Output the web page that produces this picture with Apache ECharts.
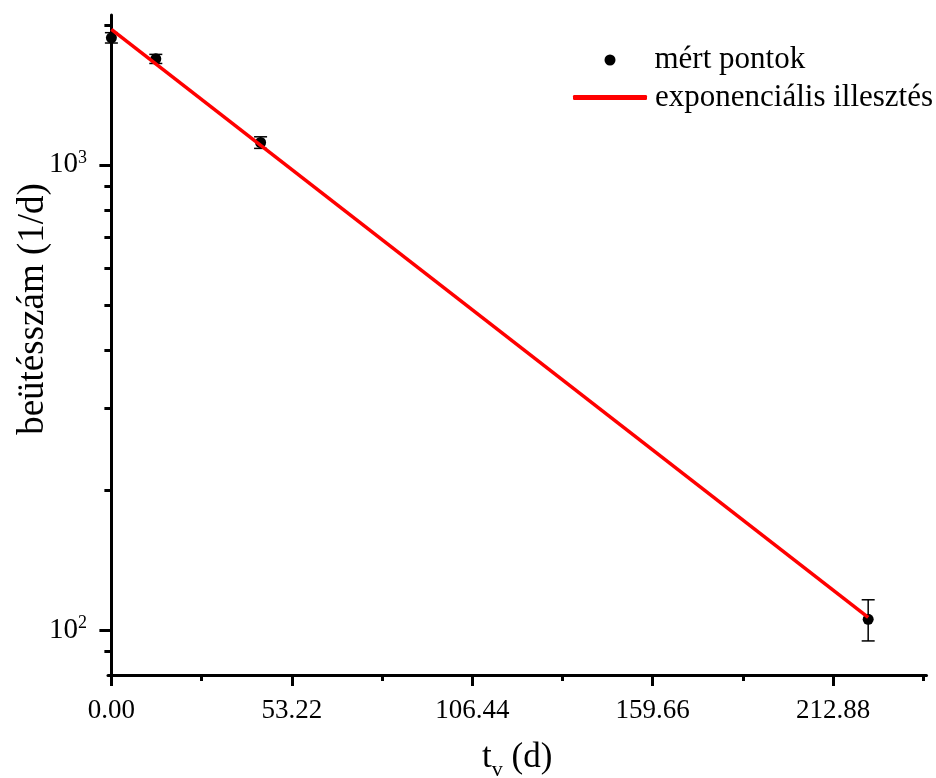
<!DOCTYPE html>
<html>
<head>
<meta charset="utf-8">
<script src="https://cdn.jsdelivr.net/npm/echarts@6/dist/echarts.min.js"></script>
<style>
html,body{margin:0;padding:0;background:#fff;}
#chart{width:936px;height:778px;}
</style>
</head>
<body>
<div id="chart"></div>
<script>
// ---- data ----
const tDays = [0, 13.1, 44.0, 223.2];          // measurement times (d)
const counts = [1876, 1690, 1117, 105.4];      // measured counts (1/d)
const countErr = [48, 38, 32, 10.7];           // error bar half-lengths
const fitT = [0, 223.2];                       // exponential fit endpoints (d)
const fitCounts = [1956, 106.4];               // fit values at endpoints
const xMajorTicks = [0, 53.22, 106.44, 159.66, 212.88];
const xMinorTicks = [26.61, 79.83, 133.05, 186.27, 239.49];
const yMajorTicks = [100, 1000];
const yMinorTicks = [90, 200, 300, 400, 500, 600, 700, 800, 900, 2000];
const seriesNames = ['mért pontok', 'exponenciális illesztés'];

const FONT = '"Liberation Serif", "Times New Roman", serif';
const X_MIN = -1, X_MAX = 240.4, Y_MIN = 80, Y_MAX = 2100;

const chart = echarts.init(document.getElementById('chart'), null, {renderer: 'canvas'});

const axisLine = {show: true, lineStyle: {color: '#000', width: 3}};

const option = {
  backgroundColor: '#fff',
  animation: false,
  grid: {left: 108, right: 9.5, top: 15, bottom: 103, containLabel: false, outerBoundsMode: 'none'},
  legend: [
    {
      data: [{name: seriesNames[0], icon: 'circle', itemStyle: {color: '#000', opacity: 1}}],
      left: 604.5, top: 44.5, padding: 0,
      itemWidth: 11, itemHeight: 11,
      textStyle: {fontFamily: FONT, fontSize: 31, color: '#000', padding: [0, 0, 0, 34]},
      selectedMode: false
    },
    {
      data: [{name: seriesNames[1], icon: 'roundRect', itemStyle: {color: '#ff0000'}}],
      left: 573, top: 82, padding: 0,
      itemWidth: 74, itemHeight: 5,
      textStyle: {fontFamily: FONT, fontSize: 31, color: '#000', padding: [0, 0, 0, 3]},
      selectedMode: false
    }
  ],
  xAxis: [
    {
      type: 'value', min: X_MIN, max: X_MAX,
      axisLine: axisLine,
      splitLine: {show: false},
      axisTick: {show: true, inside: false, length: 11, lineStyle: {color: '#000', width: 3}, customValues: xMajorTicks},
      axisLabel: {
        show: true, customValues: xMajorTicks, margin: 22,
        fontFamily: FONT, fontSize: 27, color: '#000',
        formatter: v => Number(v).toFixed(2)
      },
      name: '{t|t}{s|v}{t| (d)}',
      nameLocation: 'middle', nameGap: 60,
      nameMoveOverlap: false,
      nameTextStyle: {
        fontFamily: FONT, fontSize: 35, color: '#000',
        rich: {
          t: {fontFamily: FONT, fontSize: 35, color: '#000'},
          s: {fontFamily: FONT, fontSize: 22, color: '#000', verticalAlign: 'bottom', padding: [24, 0, 0, 0]}
        }
      }
    },
    {
      type: 'value', min: X_MIN, max: X_MAX, position: 'bottom',
      axisLine: {show: false},
      splitLine: {show: false},
      axisTick: {show: true, inside: false, length: 6, lineStyle: {color: '#000', width: 3}, customValues: xMinorTicks},
      axisLabel: {show: false}
    }
  ],
  yAxis: [
    {
      type: 'log', logBase: 10, min: Y_MIN, max: Y_MAX,
      axisLine: axisLine,
      splitLine: {show: false},
      axisTick: {show: true, inside: false, length: 12, lineStyle: {color: '#000', width: 3}, customValues: yMajorTicks},
      axisLabel: {
        show: true, customValues: yMajorTicks, margin: 21,
        fontFamily: FONT, fontSize: 29, color: '#000',
        formatter: v => '{b|10}{e|' + Math.round(Math.log10(v)) + '}',
        rich: {
          b: {fontFamily: FONT, fontSize: 29, color: '#000'},
          e: {fontFamily: FONT, fontSize: 18, color: '#000', verticalAlign: 'top', padding: [0, 0, 14, 0]}
        }
      },
      name: 'beütésszám (1/d)',
      nameLocation: 'middle', nameGap: 56, nameRotate: 90,
      nameMoveOverlap: false,
      nameTextStyle: {fontFamily: FONT, fontSize: 37, color: '#000', padding: [0, 0, 0, 72]}
    },
    {
      type: 'log', logBase: 10, min: Y_MIN, max: Y_MAX, position: 'left',
      axisLine: {show: false},
      splitLine: {show: false},
      axisTick: {show: true, inside: false, length: 7, lineStyle: {color: '#000', width: 3}, customValues: yMinorTicks},
      axisLabel: {show: false}
    }
  ],
  series: [
    {
      name: 'errors',
      type: 'custom',
      xAxisIndex: 0, yAxisIndex: 0,
      z: 2,
      clip: false,
      data: tDays.map((t, i) => [t, counts[i] - countErr[i], counts[i] + countErr[i]]),
      encode: {x: 0, y: [1, 2]},
      renderItem: function (params, api) {
        const x = api.value(0);
        const lo = api.coord([x, api.value(1)]);
        const hi = api.coord([x, api.value(2)]);
        const hw = 6.5;
        const st = {stroke: '#000', lineWidth: 1.5};
        return {
          type: 'group',
          children: [
            {type: 'line', shape: {x1: lo[0], y1: lo[1], x2: hi[0], y2: hi[1]}, style: st},
            {type: 'line', shape: {x1: lo[0] - hw, y1: lo[1], x2: lo[0] + hw, y2: lo[1]}, style: st},
            {type: 'line', shape: {x1: hi[0] - hw, y1: hi[1], x2: hi[0] + hw, y2: hi[1]}, style: st}
          ]
        };
      }
    },
    {
      name: seriesNames[0],
      type: 'scatter',
      xAxisIndex: 0, yAxisIndex: 0,
      z: 3,
      symbol: 'circle', symbolSize: 11,
      itemStyle: {color: '#000', opacity: 1},
      data: tDays.map((t, i) => [t, counts[i]])
    },
    {
      name: seriesNames[1],
      type: 'line',
      xAxisIndex: 0, yAxisIndex: 0,
      z: 4,
      showSymbol: false, symbol: 'none',
      lineStyle: {color: '#ff0000', width: 3.5},
      itemStyle: {color: '#ff0000'},
      data: fitT.map((t, i) => [t, fitCounts[i]])
    }
  ]
};

chart.setOption(option);
</script>
</body>
</html>
